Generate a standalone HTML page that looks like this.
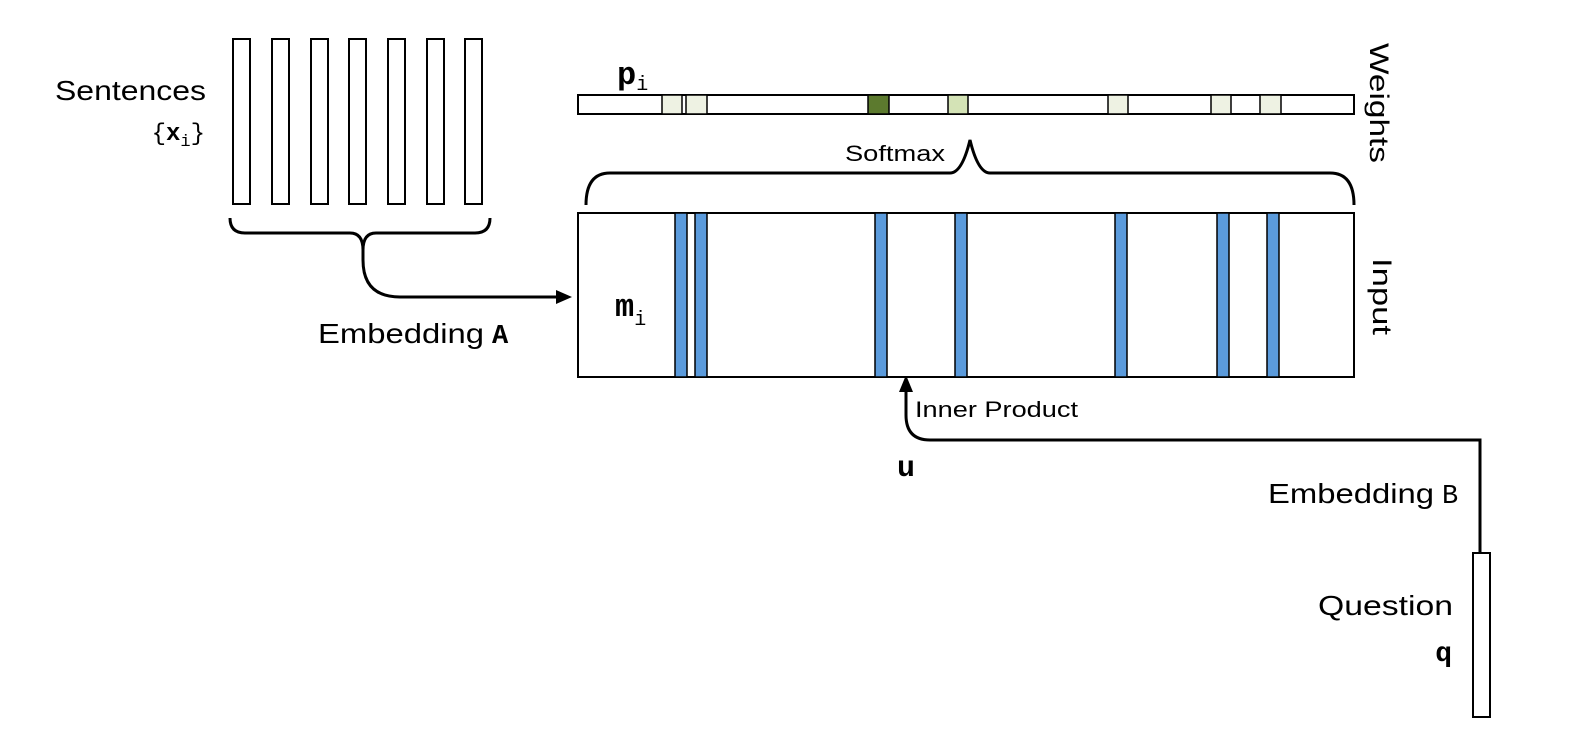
<!DOCTYPE html>
<html><head><style>html,body{margin:0;padding:0;background:#fff}svg{display:block}.m{font-family:"Liberation Mono",monospace}</style></head>
<body>
<svg width="1572" height="742" viewBox="0 0 1572 742" xmlns="http://www.w3.org/2000/svg" font-family="'Liberation Sans', sans-serif">
<g fill="#fff" stroke="#000" stroke-width="2">
<rect x="233" y="39" width="17" height="165"/>
<rect x="272" y="39" width="17" height="165"/>
<rect x="311" y="39" width="17" height="165"/>
<rect x="349" y="39" width="17" height="165"/>
<rect x="388" y="39" width="17" height="165"/>
<rect x="427" y="39" width="17" height="165"/>
<rect x="465" y="39" width="17" height="165"/>
</g>
<text x="55" y="100" font-size="28" textLength="151" lengthAdjust="spacingAndGlyphs">Sentences</text>
<text x="205" y="140" font-size="24" text-anchor="end" class="m">{<tspan font-weight="bold">x</tspan><tspan font-size="17" dy="6">i</tspan><tspan dy="-6">}</tspan></text>
<g fill="none" stroke="#000" stroke-width="3">
<path d="M230 218 Q230 233 245 233 L350 233 Q363 233 363 250 M363 250 Q363 233 376 233 L475 233 Q490 233 490 218"/>
<path d="M363 245 L363 260 Q363 297 400 297 L558 297"/>
<path d="M586 205 Q586 173 610 173 L950 173 Q962 173 970 140 Q978 173 990 173 L1330 173 Q1354 173 1354 205"/>
<path d="M906 392 L906 415 Q906 440 930 440 L1480 440 L1480 553"/>
</g>
<polygon points="572,297 556,290 556,304" fill="#000"/>
<polygon points="906,375 899,392 913,392" fill="#000"/>
<text x="318" y="343" font-size="28" textLength="166" lengthAdjust="spacingAndGlyphs">Embedding</text>
<text x="492" y="343" font-size="27" class="m" font-weight="bold">A</text>
<rect x="578" y="95" width="776" height="19" fill="#fff" stroke="#000" stroke-width="2"/>
<g stroke="#000" stroke-width="1.5">
<rect x="662" y="95" width="20" height="19" fill="#eef2e3"/>
<rect x="686" y="95" width="21" height="19" fill="#eef2e3"/>
<rect x="868" y="95" width="21" height="19" fill="#5c7a2e"/>
<rect x="948" y="95" width="20" height="19" fill="#d4e3b6"/>
<rect x="1108" y="95" width="20" height="19" fill="#eef2e3"/>
<rect x="1211" y="95" width="20" height="19" fill="#eef2e3"/>
<rect x="1260" y="95" width="21" height="19" fill="#eef2e3"/>
</g>
<text x="617" y="84" font-size="32" class="m" font-weight="bold">p<tspan font-size="20" font-weight="normal" dy="6">i</tspan></text>
<text x="845" y="161" font-size="22" textLength="100" lengthAdjust="spacingAndGlyphs">Softmax</text>
<rect x="578" y="213" width="776" height="164" fill="#fff" stroke="#000" stroke-width="2"/>
<g fill="#5b9bdc" stroke="#000" stroke-width="1.5">
<rect x="675" y="213" width="12" height="164"/>
<rect x="695" y="213" width="12" height="164"/>
<rect x="875" y="213" width="12" height="164"/>
<rect x="955" y="213" width="12" height="164"/>
<rect x="1115" y="213" width="12" height="164"/>
<rect x="1217" y="213" width="12" height="164"/>
<rect x="1267" y="213" width="12" height="164"/>
</g>
<text x="615" y="316" font-size="32" class="m" font-weight="bold">m<tspan font-size="20" font-weight="normal" dy="9">i</tspan></text>
<text x="1370" y="43" font-size="27" transform="rotate(90 1370 43)" textLength="120" lengthAdjust="spacingAndGlyphs">Weights</text>
<text x="1373" y="258" font-size="27" transform="rotate(90 1373 258)" textLength="77" lengthAdjust="spacingAndGlyphs">Input</text>
<text x="915" y="417" font-size="22" textLength="163" lengthAdjust="spacingAndGlyphs">Inner Product</text>
<text x="897" y="476" font-size="30" class="m" font-weight="bold">u</text>
<text x="1268" y="503" font-size="28" textLength="166" lengthAdjust="spacingAndGlyphs">Embedding</text>
<text x="1442" y="503" font-size="27" class="m">B</text>
<rect x="1473" y="553" width="17" height="164" fill="#fff" stroke="#000" stroke-width="2"/>
<text x="1318" y="615" font-size="28" textLength="135" lengthAdjust="spacingAndGlyphs">Question</text>
<text x="1452" y="661" font-size="28" text-anchor="end" class="m" font-weight="bold">q</text>
</svg>
</body></html>
